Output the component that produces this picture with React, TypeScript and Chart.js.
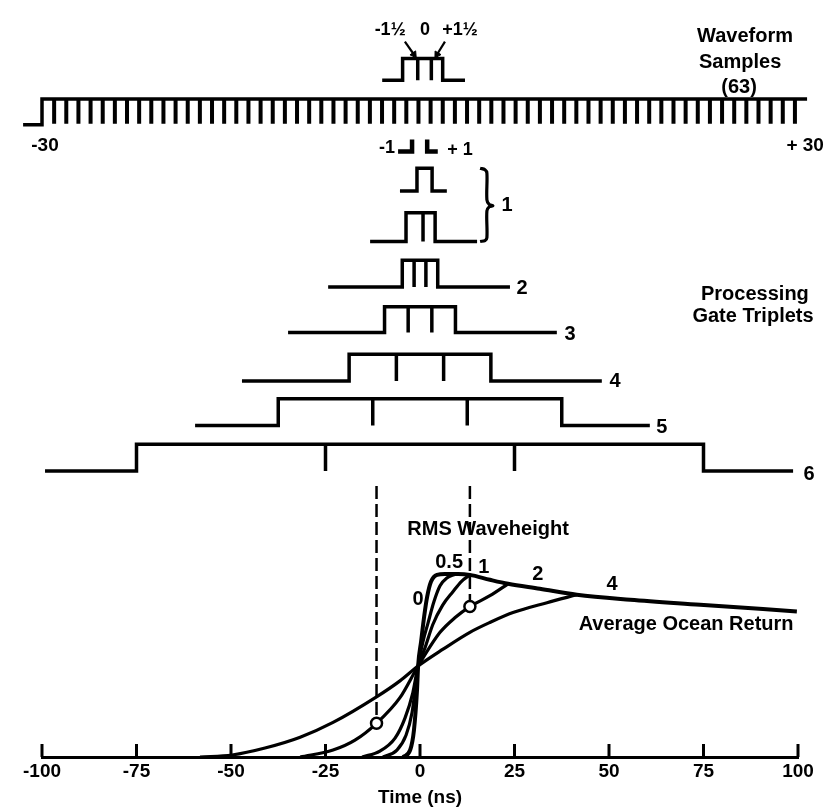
import React, { useEffect, useRef } from 'react';
import { Chart, registerables } from 'chart.js';

Chart.register(...registerables);

const FONT = "'Liberation Sans', Arial, Helvetica, sans-serif";

// ---------- time axis ----------
const X_MIN = -100;
const X_MAX = 100;
const X_STEP = 25;
const X_TITLE = 'Time (ns)';

// ---------- waveform samples comb ----------
const SAMPLE_COUNT = 63;
const COMB_SPAN = [-100, 102.4];
const COMB_LEAD = [-105, 107.7];

// ---------- top pulse (-1½ 0 +1½) ----------
const TOP_PULSE_LEAD = [-10.0, 11.9];
const TOP_PULSE_EDGES = [-4.6, 6.0];
const TOP_PULSE_TICKS = [-0.6, 3.0];

// ---------- processing gate triplets ----------
const GATE_LEVELS = ['1', '1', '2', '3', '4', '5', '6'];
const GATE_EDGES = [
  [-0.8, 3.2],
  [-3.7, 4.0],
  [-4.69, 4.69],
  [-9.38, 9.38],
  [-18.75, 18.75],
  [-37.5, 37.5],
  [-75, 75],
];
const GATE_TICKS = [
  [],
  [0.8],
  [-1.56, 1.56],
  [-3.13, 3.13],
  [-6.25, 6.25],
  [-12.5, 12.5],
  [-25, 25],
];
const GATE_LEADS = [
  [-5.3, 7.1],
  [-13.2, 15.1],
  [-24.3, 23.8],
  [-34.9, 36.2],
  [-47.1, 48.1],
  [-59.5, 60.8],
  [-99.2, 98.7],
];

// ---------- average ocean return (normalised power) per RMS waveheight ----------
const RMS_HEIGHTS = ['0', '0.5', '1', '2', '4'];
const T_H0 = [-4.5, -2.6, -1.6, -0.8, -0.5, 0.3, 1.1, 1.9, 2.9, 4.5, 6.6, 10.1, 13.2, 18.5, 23.3, 31.7, 41.5, 55.6, 74.1, 99.7];
const P_H0 = [0, 0.038, 0.146, 0.362, 0.497, 0.632, 0.768, 0.876, 0.957, 0.995, 1.0, 1.0, 0.995, 0.968, 0.946, 0.919, 0.886, 0.859, 0.832, 0.795];
const T_H05 = [-9.8, -6.1, -3.7, -2.1, -0.5, 0.8, 2.1, 3.7, 5.3, 7.1, 9.3];
const P_H05 = [0, 0.038, 0.119, 0.243, 0.497, 0.632, 0.73, 0.849, 0.935, 0.978, 0.998];
const T_H1 = [-15.3, -10.6, -6.6, -4.0, -1.9, -0.5, 1.3, 3.4, 6.0, 8.7, 11.0, 13.2];
const P_H1 = [0, 0.032, 0.103, 0.211, 0.351, 0.497, 0.595, 0.724, 0.83, 0.903, 0.96, 0.995];
const T_H2 = [-31.7, -23.0, -17.2, -11.5, -5.3, -0.5, 5.3, 9.3, 13.2, 18.5, 23.3];
const P_H2 = [0, 0.038, 0.092, 0.184, 0.324, 0.497, 0.681, 0.762, 0.822, 0.881, 0.946];
const T_H4 = [-58.2, -49.7, -41.0, -31.7, -23.0, -11.4, -5.3, -0.5, 6.1, 13.2, 18.5, 24.6, 33.6, 41.5];
const P_H4 = [0, 0.011, 0.049, 0.108, 0.189, 0.33, 0.416, 0.497, 0.589, 0.681, 0.735, 0.789, 0.843, 0.886];
const CURVE_T = [T_H0, T_H05, T_H1, T_H2, T_H4];
const CURVE_P = [P_H0, P_H05, P_H1, P_H2, P_H4];

// marked points (on the 2 m curve) and their dashed markers
const MARK_T = [-11.5, 13.2];
const MARK_P = [0.184, 0.822];
const MARK_TOP_P = 1.48;

// ---------- layout (diagram rows, in px-like units of hidden axis) ----------
const PLOT_BOTTOM = 757;
const POWER_PX = 185;
const TOP_PULSE_ROW = { base: 73, top: 51 };
const COMB_ROW = { base: 118, top: 92 };
const ROW_BASE = [185, 236, 282, 328, 377, 422, 468];
const ROW_TOP = [162, 207, 255, 302, 350, 395, 441];
const PX_PER_NS = 756 / 200;
const LW = 3.5;

type Lbl = { text: string; x: number; y: number; size?: number };
const LABELS: Lbl[] = [
  { text: '-1½', x: -7.9, y: 22, size: 18 },
  { text: '0', x: 1.3, y: 22, size: 18 },
  { text: '+1½', x: 10.6, y: 22, size: 18 },
  { text: 'Waveform', x: 86.0, y: 29 },
  { text: 'Samples', x: 84.7, y: 55 },
  { text: '(63)', x: 84.4, y: 80 },
  { text: '-30', x: -99.2, y: 139, size: 19 },
  { text: '+ 30', x: 101.9, y: 139, size: 19 },
  { text: '-1', x: -8.7, y: 142, size: 18 },
  { text: '+ 1', x: 10.6, y: 144, size: 18 },
  { text: '1', x: 23.0, y: 200 },
  { text: '2', x: 27.0, y: 283 },
  { text: '3', x: 39.7, y: 330 },
  { text: '4', x: 51.6, y: 377 },
  { text: '5', x: 64.0, y: 424 },
  { text: '6', x: 102.9, y: 471 },
  { text: 'Processing', x: 88.6, y: 290 },
  { text: 'Gate Triplets', x: 88.1, y: 312 },
  { text: 'RMS Waveheight', x: 18.0, y: 527 },
  { text: RMS_HEIGHTS[1], x: 7.7, y: 560 },
  { text: RMS_HEIGHTS[2], x: 16.9, y: 565 },
  { text: RMS_HEIGHTS[3], x: 31.2, y: 573 },
  { text: RMS_HEIGHTS[4], x: 50.8, y: 583 },
  { text: RMS_HEIGHTS[0], x: -0.5, y: 598 },
  { text: 'Average Ocean Return', x: 70.4, y: 623 },
];

// sample -1 / +1 brackets and arrows
const BRACKET_L = [[-5.8, 145], [-2.1, 145], [-2.1, 133]];
const BRACKET_R = [[1.9, 133], [1.9, 145], [4.7, 145]];
const ARROWS = [
  [[-4.0, 34], [-1.6, 47]],
  [[6.6, 34], [4.5, 47]],
];
const BRACE = [
  [15.9, 162], [17.2, 163.5], [17.7, 167], [17.7, 194], [18.3, 198.5], [19.3, 199.8],
  [18.3, 201], [17.7, 205], [17.7, 232], [17.2, 235], [15.9, 236],
];

function outline(lead: number[], edges: number[], base: number, top: number) {
  return [
    { x: lead[0], y: base },
    { x: edges[0], y: base },
    { x: edges[0], y: top },
    { x: edges[1], y: top },
    { x: edges[1], y: base },
    { x: lead[1], y: base },
  ];
}
function teeth(xs: number[], base: number, top: number) {
  const out: any[] = [];
  xs.forEach((t) => {
    out.push({ x: t, y: top }, { x: t, y: base }, { x: t, y: null });
  });
  return out;
}

const lineDs = (data: any[], extra: any = {}) => ({
  data,
  yAxisID: 'yd',
  borderColor: '#000',
  borderWidth: LW,
  pointRadius: 0,
  tension: 0,
  clip: false,
  borderJoinStyle: 'miter',
  borderCapStyle: 'butt',
  spanGaps: false,
  ...extra,
});

export default function App() {
  const ref = useRef<HTMLCanvasElement>(null);
  useEffect(() => {
    const canvas = ref.current!;
    const datasets: any[] = [];

    // circles (top-most)
    datasets.push({
      data: MARK_T.map((t, i) => ({ x: t, y: MARK_P[i] })),
      yAxisID: 'y',
      showLine: false,
      pointRadius: 5.5,
      pointBackgroundColor: '#fff',
      pointBorderColor: '#000',
      pointBorderWidth: 2.5,
      clip: false,
    });
    // dashed markers
    MARK_T.forEach((t, i) => {
      datasets.push({
        data: [{ x: t, y: MARK_TOP_P }, { x: t, y: MARK_P[i] }],
        yAxisID: 'y',
        borderColor: '#000',
        borderWidth: 2.5,
        borderDash: [13, 5],
        pointRadius: 0,
        clip: false,
      });
    });
    // ocean return curves
    CURVE_T.forEach((ts, i) => {
      datasets.push({
        data: ts.map((t, j) => ({ x: t, y: CURVE_P[i][j] })),
        yAxisID: 'y',
        borderColor: '#000',
        borderWidth: i === 0 ? 4 : 3.2,
        pointRadius: 0,
        cubicInterpolationMode: 'monotone',
        clip: false,
      });
    });

    // comb
    datasets.push(lineDs(outline(COMB_LEAD, COMB_SPAN, COMB_ROW.base, COMB_ROW.top)));
    const combTeeth: number[] = [];
    const dx = (COMB_SPAN[1] - COMB_SPAN[0]) / SAMPLE_COUNT;
    for (let k = 1; k < SAMPLE_COUNT; k++) combTeeth.push(COMB_SPAN[0] + k * dx);
    datasets.push(lineDs(teeth(combTeeth, COMB_ROW.base - 1, COMB_ROW.top), { borderWidth: 4 }));

    // top pulse
    datasets.push(lineDs(outline(TOP_PULSE_LEAD, TOP_PULSE_EDGES, TOP_PULSE_ROW.base, TOP_PULSE_ROW.top)));
    datasets.push(lineDs(teeth(TOP_PULSE_TICKS, TOP_PULSE_ROW.base, TOP_PULSE_ROW.top)));

    // gate rows
    GATE_LEVELS.forEach((_, i) => {
      datasets.push(lineDs(outline(GATE_LEADS[i], GATE_EDGES[i], ROW_BASE[i], ROW_TOP[i])));
      if (GATE_TICKS[i].length) datasets.push(lineDs(teeth(GATE_TICKS[i], ROW_BASE[i], ROW_TOP[i])));
    });

    // brackets, brace, arrows
    datasets.push(lineDs(BRACKET_L.map(([x, y]) => ({ x, y })), { borderWidth: 4.5 }));
    datasets.push(lineDs(BRACKET_R.map(([x, y]) => ({ x, y })), { borderWidth: 4.5 }));
    datasets.push(lineDs(BRACE.map(([x, y]) => ({ x, y })), { borderWidth: 3.2, tension: 0.35, borderJoinStyle: 'round' }));
    ARROWS.forEach((a) => {
      const ddx = (a[1][0] - a[0][0]) * PX_PER_NS;
      const ddy = a[1][1] - a[0][1];
      const rot = (Math.atan2(ddx, -ddy) * 180) / Math.PI;
      datasets.push(
        lineDs(a.map(([x, y]) => ({ x, y })), {
          borderWidth: 2.2,
          pointRadius: [0, 4],
          pointStyle: 'triangle',
          pointRotation: [0, rot],
          pointBackgroundColor: '#000',
          pointBorderColor: '#000',
          pointBorderWidth: 1,
        })
      );
    });

    const tickMarks = {
      id: 'tickMarks',
      afterDraw(chart: any) {
        const { ctx, scales } = chart;
        const xs = scales.x;
        const bottom = chart.chartArea.bottom;
        ctx.save();
        ctx.strokeStyle = '#000';
        ctx.lineWidth = 3;
        xs.ticks.forEach((t: any) => {
          const px = xs.getPixelForValue(t.value);
          ctx.beginPath();
          ctx.moveTo(px, bottom);
          ctx.lineTo(px, bottom - 13);
          ctx.stroke();
        });
        ctx.restore();
      },
    };
    const textLabels = {
      id: 'textLabels',
      afterDraw(chart: any) {
        const { ctx, scales } = chart;
        ctx.save();
        ctx.fillStyle = '#000';
        ctx.textAlign = 'center';
        ctx.textBaseline = 'middle';
        LABELS.forEach((l) => {
          ctx.font = `bold ${l.size || 20}px ${FONT}`;
          ctx.fillText(l.text, scales.x.getPixelForValue(l.x), scales.yd.getPixelForValue(l.y));
        });
        ctx.restore();
      },
    };

    const chart = new Chart(canvas, {
      type: 'line',
      data: { datasets },
      options: {
        responsive: false,
        devicePixelRatio: 1,
        animation: false,
        layout: { padding: { left: 42, right: 29, top: 0, bottom: 0 } },
        plugins: { legend: { display: false }, tooltip: { enabled: false } },
        scales: {
          x: {
            type: 'linear',
            min: X_MIN,
            max: X_MAX,
            position: 'bottom',
            afterFit: (s: any) => {
              s.height = 809 - PLOT_BOTTOM;
            },
            ticks: {
              stepSize: X_STEP,
              autoSkip: false,
              maxRotation: 0,
              color: '#000',
              padding: 3,
              font: { family: FONT, size: 19, weight: 'bold' },
            },
            grid: { display: true, drawOnChartArea: false, drawTicks: false },
            border: { display: true, color: '#000', width: 3 },
            title: {
              display: true,
              text: X_TITLE,
              color: '#000',
              font: { family: FONT, size: 19, weight: 'bold' },
              padding: { top: 0, bottom: 0 },
            },
          },
          y: { type: 'linear', min: 0, max: PLOT_BOTTOM / POWER_PX, display: false },
          yd: { type: 'linear', min: 0, max: PLOT_BOTTOM, reverse: true, display: false },
        },
      } as any,
      plugins: [tickMarks, textLabels],
    });
    return () => chart.destroy();
  }, []);

  return (
    <div style={{ position: 'absolute', left: 0, top: 0, width: 827, height: 809, background: '#fff' }}>
      <canvas ref={ref} width={827} height={809} style={{ width: 827, height: 809, display: 'block' }} />
    </div>
  );
}
